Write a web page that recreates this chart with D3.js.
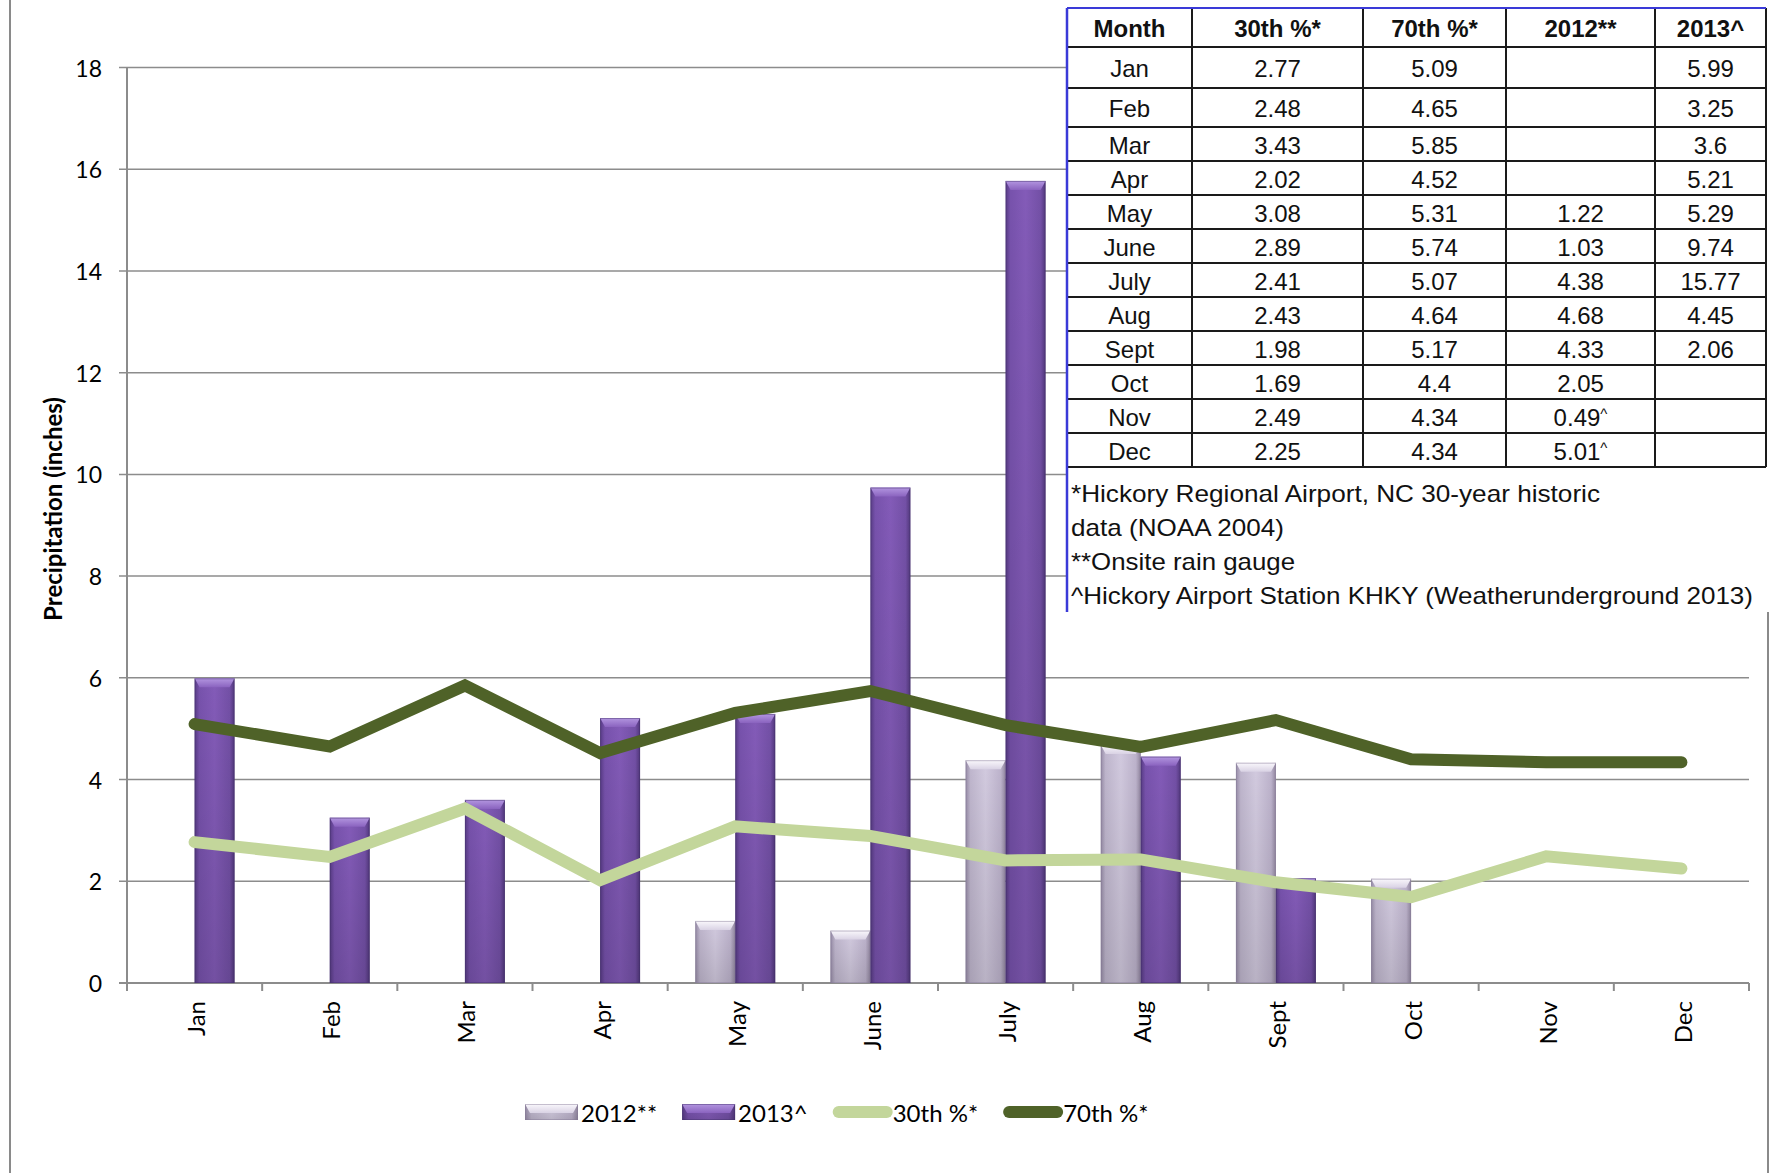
<!DOCTYPE html>
<html>
<head>
<meta charset="utf-8">
<script src="https://cdn.jsdelivr.net/npm/d3@7"></script>
<style>
  html, body { margin: 0; padding: 0; background: #fff; }
  svg { display: block; }
</style>
</head>
<body>
<svg id="chart" width="1769" height="1173"></svg>
<script>
// ---- data -------------------------------------------------------------
const months = ["Jan", "Feb", "Mar", "Apr", "May", "June", "July", "Aug", "Sept", "Oct", "Nov", "Dec"];
const pct30 = [2.77, 2.48, 3.43, 2.02, 3.08, 2.89, 2.41, 2.43, 1.98, 1.69, 2.49, 2.25];
const pct70 = [5.09, 4.65, 5.85, 4.52, 5.31, 5.74, 5.07, 4.64, 5.17, 4.4, 4.34, 4.34];
// onsite rain gauge, 2012 (plotted)
const gauge2012 = [null, null, null, null, 1.22, 1.03, 4.38, 4.68, 4.33, 2.05, null, null];
// late-2012 values taken from the airport station (listed in the table only)
const station2012 = [null, null, null, null, null, null, null, null, null, null, 0.49, 5.01];
const rain2013 = [5.99, 3.25, 3.6, 5.21, 5.29, 9.74, 15.77, 4.45, 2.06, null, null, null];
const yTicks = [0, 2, 4, 6, 8, 10, 12, 14, 16, 18];
const seriesNames = ["2012**", "2013^", "30th %*", "70th %*"];
const tableHeader = ["Month", "30th %*", "70th %*", "2012**", "2013^"];
const footnotes = [
  "*Hickory Regional Airport, NC 30-year historic",
  "data (NOAA 2004)",
  "**Onsite rain gauge",
  "^Hickory Airport Station KHKY (Weatherunderground 2013)"
];
const yTitle = "Precipitation (inches)";

// ---- layout -----------------------------------------------------------
const svg = d3.select("#chart");
const plot = { left: 127, right: 1749, top: 67.5, bottom: 983 };
const chartFont = "Lato, 'Open Sans', sans-serif";
const tableFont = "'Liberation Sans', Arial, sans-serif";
const gridColor = "#8c8c8c";

const x = d3.scaleBand().domain(months).range([plot.left, plot.right]);
const xSub = d3.scaleBand().domain(["2012", "2013"]).range([0, x.bandwidth()])
  .paddingInner(0).paddingOuter(0.69);
const y = d3.scaleLinear().domain([0, 18]).range([plot.bottom, plot.top]);
const cx = m => x(m) + x.bandwidth() / 2;

// ---- gradients --------------------------------------------------------
const defs = svg.append("defs");
function hGrad(id, stops) {
  const g = defs.append("linearGradient").attr("id", id)
    .attr("x1", 0).attr("x2", 1).attr("y1", 0).attr("y2", 0);
  stops.forEach(([o, c]) => g.append("stop").attr("offset", o).attr("stop-color", c));
}
function vGrad(id, stops) {
  const g = defs.append("linearGradient").attr("id", id)
    .attr("x1", 0).attr("x2", 0).attr("y1", 0).attr("y2", 1);
  stops.forEach(([o, c, a]) => g.append("stop").attr("offset", o).attr("stop-color", c)
    .attr("stop-opacity", a == null ? 1 : a));
}
hGrad("body2013", [[0, "#573b84"], [0.12, "#7752ac"], [0.5, "#835bb8"], [0.88, "#7350a6"], [1, "#51377b"]]);
hGrad("body2012", [[0, "#968ba6"], [0.12, "#bfb6cd"], [0.5, "#d2cadf"], [0.88, "#bdb3cc"], [1, "#91869f"]]);
vGrad("cap2013", [[0, "#b396e0"], [1, "#8a63bf"]]);
vGrad("cap2012", [[0, "#faf8fc"], [1, "#d9d2e4"]]);
vGrad("shade", [[0, "#000", 0], [1, "#000", 0.12]]);

const styles = {
  "2012": { body: "url(#body2012)", cap: "url(#cap2012)", edge: "#857a96" },
  "2013": { body: "url(#body2013)", cap: "url(#cap2013)", edge: "#43306a" }
};

// bevelled bar shape
function drawBar(g, bx, by, bw, bh, key) {
  const s = styles[key];
  g.append("rect").attr("x", bx).attr("y", by).attr("width", bw).attr("height", bh)
    .attr("fill", s.body);
  g.append("rect").attr("x", bx).attr("y", by).attr("width", bw).attr("height", bh)
    .attr("fill", "url(#shade)");
  const capH = Math.min(9, bh);
  const inset = 5;
  g.append("path")
    .attr("d", `M${bx},${by}H${bx + bw}L${bx + bw - inset},${by + capH}H${bx + inset}Z`)
    .attr("fill", s.cap);
  g.append("rect").attr("x", bx + 0.5).attr("y", by + 0.5).attr("width", bw - 1).attr("height", bh - 1)
    .attr("fill", "none").attr("stroke", s.edge).attr("stroke-opacity", 0.45).attr("stroke-width", 1);
}

// ---- outer frame ------------------------------------------------------
svg.append("line").attr("x1", 10).attr("x2", 10).attr("y1", 0).attr("y2", 1173)
  .attr("stroke", "#8a8a8a").attr("stroke-width", 2);
svg.append("line").attr("x1", 1768).attr("x2", 1768).attr("y1", 612).attr("y2", 1173)
  .attr("stroke", "#8a8a8a").attr("stroke-width", 2);

// ---- gridlines & y axis ----------------------------------------------
const grid = svg.append("g");
grid.selectAll("line").data(yTicks).join("line")
  .attr("x1", plot.left - 8).attr("x2", plot.right)
  .attr("y1", d => y(d)).attr("y2", d => y(d))
  .attr("stroke", gridColor).attr("stroke-width", d => d === 0 ? 2 : 1.5);
svg.append("line").attr("x1", plot.left).attr("x2", plot.left)
  .attr("y1", plot.top).attr("y2", plot.bottom + 8)
  .attr("stroke", gridColor).attr("stroke-width", 2);

svg.append("g").selectAll("text").data(yTicks).join("text")
  .attr("x", plot.left - 25).attr("y", d => y(d))
  .attr("text-anchor", "end").attr("dominant-baseline", "central")
  .attr("font-family", chartFont).attr("font-size", 23).attr("fill", "#000")
  .text(d => d);

svg.append("text")
  .attr("transform", `translate(52,509) rotate(-90)`)
  .attr("text-anchor", "middle").attr("dominant-baseline", "central")
  .attr("font-family", chartFont).attr("font-weight", 700).attr("font-size", 24)
  .attr("fill", "#000").text(yTitle);

// ---- bars -------------------------------------------------------------
const bars = svg.append("g");
months.forEach((m, i) => {
  [["2012", gauge2012[i]], ["2013", rain2013[i]]].forEach(([key, v]) => {
    if (v == null) return;
    const bx = x(m) + xSub(key);
    drawBar(bars, bx, y(v), xSub.bandwidth(), y(0) - y(v), key);
  });
});

// ---- x axis ticks & labels -------------------------------------------
const tickXs = months.map(m => x(m)).concat([plot.right]);
svg.append("g").selectAll("line").data(tickXs.slice(1)).join("line")
  .attr("x1", d => d).attr("x2", d => d)
  .attr("y1", plot.bottom).attr("y2", plot.bottom + 8)
  .attr("stroke", gridColor).attr("stroke-width", 2);

svg.append("g").selectAll("text").data(months).join("text")
  .attr("transform", m => `translate(${cx(m) + 1},${plot.bottom + 18}) rotate(-90)`)
  .attr("text-anchor", "end").attr("dominant-baseline", "central")
  .attr("font-family", chartFont).attr("font-size", 24).attr("fill", "#000")
  .text(m => m);

// ---- percentile lines -------------------------------------------------
const line = d3.line().x((d, i) => cx(months[i])).y(d => y(d));
svg.append("path").datum(pct30).attr("d", line)
  .attr("fill", "none").attr("stroke", "#c3d69b").attr("stroke-width", 12)
  .attr("stroke-linecap", "round").attr("stroke-linejoin", "miter");
svg.append("path").datum(pct70).attr("d", line)
  .attr("fill", "none").attr("stroke", "#4f6228").attr("stroke-width", 12)
  .attr("stroke-linecap", "round").attr("stroke-linejoin", "miter");

// ---- data table -------------------------------------------------------
const colEdges = [1067, 1192, 1363, 1506, 1655, 1766];
const rowEdges = [8, 47, 88, 127, 161, 195, 229, 263, 297, 331, 365, 399, 433, 467];
const tableBottom = 612;
const table = svg.append("g");
table.append("rect").attr("x", colEdges[0]).attr("y", rowEdges[0])
  .attr("width", colEdges[5] - colEdges[0]).attr("height", tableBottom - rowEdges[0])
  .attr("fill", "#fff");

const fmt = v => v == null ? "" : String(v);
const rows = months.map((m, i) => [
  m, fmt(pct30[i]), fmt(pct70[i]),
  gauge2012[i] != null ? fmt(gauge2012[i]) : (station2012[i] != null ? fmt(station2012[i]) + "^" : ""),
  fmt(rain2013[i])
]);
const allRows = [tableHeader].concat(rows);

allRows.forEach((r, ri) => {
  const yc = (rowEdges[ri] + rowEdges[ri + 1]) / 2;
  r.forEach((t, ci) => {
    if (!t) return;
    const xc = (colEdges[ci] + colEdges[ci + 1]) / 2;
    const txt = table.append("text")
      .attr("x", xc).attr("y", yc + 1)
      .attr("text-anchor", "middle").attr("dominant-baseline", "central")
      .attr("font-family", tableFont).attr("fill", "#111")
      .attr("font-size", 24)
      .attr("font-weight", ri === 0 ? 700 : 400);
    if (ri > 0 && t.endsWith("^")) {
      txt.text(t.slice(0, -1));
      txt.append("tspan").attr("font-size", 15).attr("dy", -4).text("^");
    } else {
      txt.text(t);
    }
  });
});

table.selectAll("line.h").data(rowEdges.slice(1)).join("line").attr("class", "h")
  .attr("x1", colEdges[0]).attr("x2", colEdges[5])
  .attr("y1", d => d).attr("y2", d => d)
  .attr("stroke", "#1a1a1a").attr("stroke-width", 2);
table.selectAll("line.v").data(colEdges.slice(1)).join("line").attr("class", "v")
  .attr("x1", d => d).attr("x2", d => d)
  .attr("y1", rowEdges[0]).attr("y2", rowEdges[rowEdges.length - 1])
  .attr("stroke", "#1a1a1a").attr("stroke-width", 2);
table.append("line").attr("x1", colEdges[0]).attr("x2", colEdges[5])
  .attr("y1", rowEdges[0]).attr("y2", rowEdges[0])
  .attr("stroke", "#3a3ad8").attr("stroke-width", 2);
table.append("line").attr("x1", colEdges[0]).attr("x2", colEdges[0])
  .attr("y1", rowEdges[0]).attr("y2", tableBottom)
  .attr("stroke", "#3a3ad8").attr("stroke-width", 2.5);

const noteWidths = [529, 213, 224, 682];
footnotes.forEach((t, i) => {
  table.append("text")
    .attr("x", 1071).attr("y", 493 + i * 34)
    .attr("dominant-baseline", "central")
    .attr("font-family", tableFont).attr("font-size", 24).attr("fill", "#111")
    .attr("textLength", noteWidths[i]).attr("lengthAdjust", "spacingAndGlyphs")
    .text(t);
});

// ---- legend -----------------------------------------------------------
const legend = svg.append("g");
let lx = 525;
const ly = 1112;
seriesNames.forEach((name, i) => {
  const sw = i < 2 ? 53 : 60;
  let textGap = 3;
  if (i < 2) {
    drawBar(legend, lx, ly - 8, sw, 16, i === 0 ? "2012" : "2013");
  } else {
    legend.append("line").attr("x1", lx + 6).attr("x2", lx + sw - 6)
      .attr("y1", ly).attr("y2", ly)
      .attr("stroke", i === 2 ? "#c3d69b" : "#4f6228").attr("stroke-width", 12)
      .attr("stroke-linecap", "round");
    textGap = 0;
  }
  const t = legend.append("text").attr("x", lx + sw + textGap).attr("y", ly)
    .attr("dominant-baseline", "central")
    .attr("font-family", chartFont).attr("font-size", 24).attr("fill", "#000")
    .text(name);
  lx += sw + textGap + t.node().getComputedTextLength() + 25;
});
</script>
</body>
</html>
